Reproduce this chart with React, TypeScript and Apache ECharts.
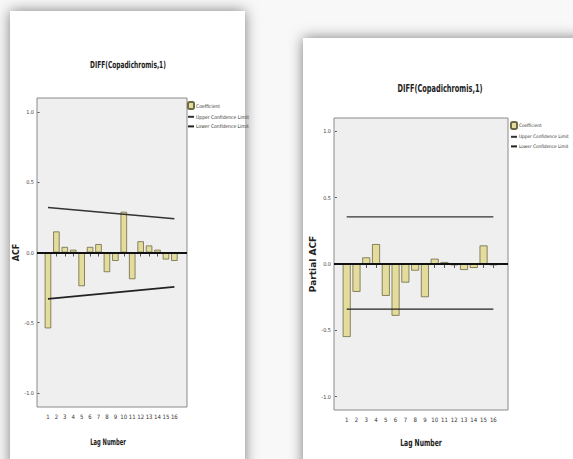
import React, { useEffect, useRef } from "react";
import * as echarts from "echarts";

const lags = [1, 2, 3, 4, 5, 6, 7, 8, 9, 10, 11, 12, 13, 14, 15, 16];
const acfValues = [-0.54, 0.15, 0.04, 0.02, -0.24, 0.04, 0.06, -0.14, -0.06, 0.29, -0.19, 0.08, 0.05, 0.02, -0.05, -0.06];
const acfUpper = [[1, 0.32], [16, 0.24]];
const acfLower = [[1, -0.33], [16, -0.245]];
const pacfValues = [-0.55, -0.21, 0.05, 0.15, -0.24, -0.39, -0.14, -0.05, -0.25, 0.04, 0.015, -0.01, -0.045, -0.03, 0.14, -0.01];
const pacfUpper = [[1, 0.355], [16, 0.355]];
const pacfLower = [[1, -0.34], [16, -0.34]];
const yTicks = [-1, -0.5, 0, 0.5, 1];
const titleText = "DIFF(Copadichromis,1)";
const xTitle = "Lag Number";
const seriesNames = ["Coefficient", "Upper Confidence Limit", "Lower Confidence Limit"];

const FONT = "'Liberation Sans Narrow', 'DejaVu Sans Condensed', 'Arial Narrow', sans-serif";
const BOLD = "'DejaVu Sans', sans-serif";

function makeAxes(gridIndex: number, yName: string, yNameGap: number, yNameSize: number) {
  const xAxis = {
    type: "value",
    gridIndex,
    min: -0.3,
    max: 17.5,
    axisLine: { show: false },
    splitLine: { show: false },
    axisTick: { show: true, length: 4, customValues: lags, lineStyle: { color: "#555", width: 1 } },
    axisLabel: { customValues: lags, fontFamily: FONT, fontSize: 6, color: "#333", margin: 6, formatter: (v: number) => String(v) },
  };
  const yAxis = {
    type: "value",
    gridIndex,
    min: -1.1,
    max: 1.1,
    name: yName,
    nameLocation: "middle",
    nameGap: yNameGap,
    nameTextStyle: { fontFamily: BOLD, fontSize: yNameSize, fontWeight: "bold", color: "#222" },
    axisLine: { show: false },
    splitLine: { show: false },
    axisTick: { show: true, length: 2, customValues: yTicks, lineStyle: { color: "#555" } },
    axisLabel: { customValues: yTicks, fontFamily: FONT, fontSize: 5.5, color: "#444", margin: 3, formatter: (v: number) => v.toFixed(1) },
  };
  return { xAxis, yAxis };
}

function makeSeries(idx: number, values: number[], upper: number[][], lower: number[][], lw: number, bw: number) {
  return [
    {
      name: seriesNames[0],
      type: "bar",
      xAxisIndex: idx,
      yAxisIndex: idx,
      barWidth: bw,
      data: lags.map((l, i) => [l, values[i]]),
      itemStyle: { color: "#e3dc9c", borderColor: "#6e6a45", borderWidth: 0.8 },
      markLine: {
        silent: true,
        symbol: "none",
        label: { show: false },
        lineStyle: { color: "#111", width: 2, type: "solid" },
        data: [{ yAxis: 0 }],
      },
    },
    {
      name: seriesNames[1],
      type: "line",
      xAxisIndex: idx,
      yAxisIndex: idx,
      symbol: "none",
      data: upper,
      lineStyle: { color: "#333", width: lw },
      itemStyle: { color: "#333" },
    },
    {
      name: seriesNames[2],
      type: "line",
      xAxisIndex: idx,
      yAxisIndex: idx,
      symbol: "none",
      data: lower,
      lineStyle: { color: "#222", width: lw },
      itemStyle: { color: "#222" },
    },
  ];
}

function legendAt(left: number, top: number, size: number) {
  const hidden = { color: "rgba(0,0,0,0)", borderWidth: 0 };
  return {
    orient: "vertical",
    left,
    top,
    padding: 0,
    itemWidth: 6,
    itemHeight: 7,
    itemGap: 4,
    selectedMode: false,
    data: [
      { name: seriesNames[0] },
      { name: seriesNames[1], itemStyle: hidden },
      { name: seriesNames[2], itemStyle: hidden },
    ],
    textStyle: { fontFamily: FONT, fontSize: size, color: "#333", padding: [0, 0, 0, -3] },
  };
}

function label(text: string, x: number, y: number, size: number, sx: number) {
  return {
    type: "text",
    x,
    y,
    scaleX: sx,
    silent: true,
    style: { text, x: 0, y: 0, align: "center", verticalAlign: "middle", font: `bold ${size}px ${BOLD}`, fill: "#222" },
  };
}

export default function App() {
  const ref = useRef<HTMLDivElement>(null);
  useEffect(() => {
    if (!ref.current) return;
    const chart = echarts.init(ref.current, null, { renderer: "svg" });
    const a = makeAxes(0, "ACF", 14, 8);
    const b = makeAxes(1, "Partial ACF", 15, 9);
    const paperStyle = { fill: "#ffffff", shadowBlur: 14, shadowColor: "rgba(0,0,0,0.5)", shadowOffsetX: 0, shadowOffsetY: 0 };
    chart.setOption({
      animation: false,
      backgroundColor: "#f8f8f8",
      textStyle: { fontFamily: FONT },
      graphic: {
        elements: [
          { type: "rect", z: -10, silent: true, shape: { x: 10, y: 11, width: 235, height: 460 }, style: paperStyle },
          { type: "rect", z: -10, silent: true, shape: { x: 303, y: 38, width: 290, height: 440 }, style: paperStyle },
          label(titleText, 128, 65, 9.5, 0.62),
          label(titleText, 440, 88, 10, 0.66),
          label(xTitle, 108, 442, 9, 0.58),
          label(xTitle, 421, 443, 9.5, 0.64),
        ],
      },
      legend: [legendAt(187, 101, 5), legendAt(510, 121, 4.7)],
      grid: [
        { left: 37, top: 98, width: 150, height: 309, show: true, backgroundColor: "#efefef", borderColor: "#8a8a8a", borderWidth: 1 },
        { left: 334, top: 118, width: 174, height: 292, show: true, backgroundColor: "#efefef", borderColor: "#8a8a8a", borderWidth: 1 },
      ],
      xAxis: [a.xAxis, b.xAxis],
      yAxis: [a.yAxis, b.yAxis],
      series: [
        ...makeSeries(0, acfValues, acfUpper, acfLower, 1.6, 6.5),
        ...makeSeries(1, pacfValues, pacfUpper, pacfLower, 1.3, 8),
      ],
    });
    return () => chart.dispose();
  }, []);
  return <div ref={ref} style={{ position: "fixed", left: 0, top: 0, width: 573, height: 459 }} />;
}
